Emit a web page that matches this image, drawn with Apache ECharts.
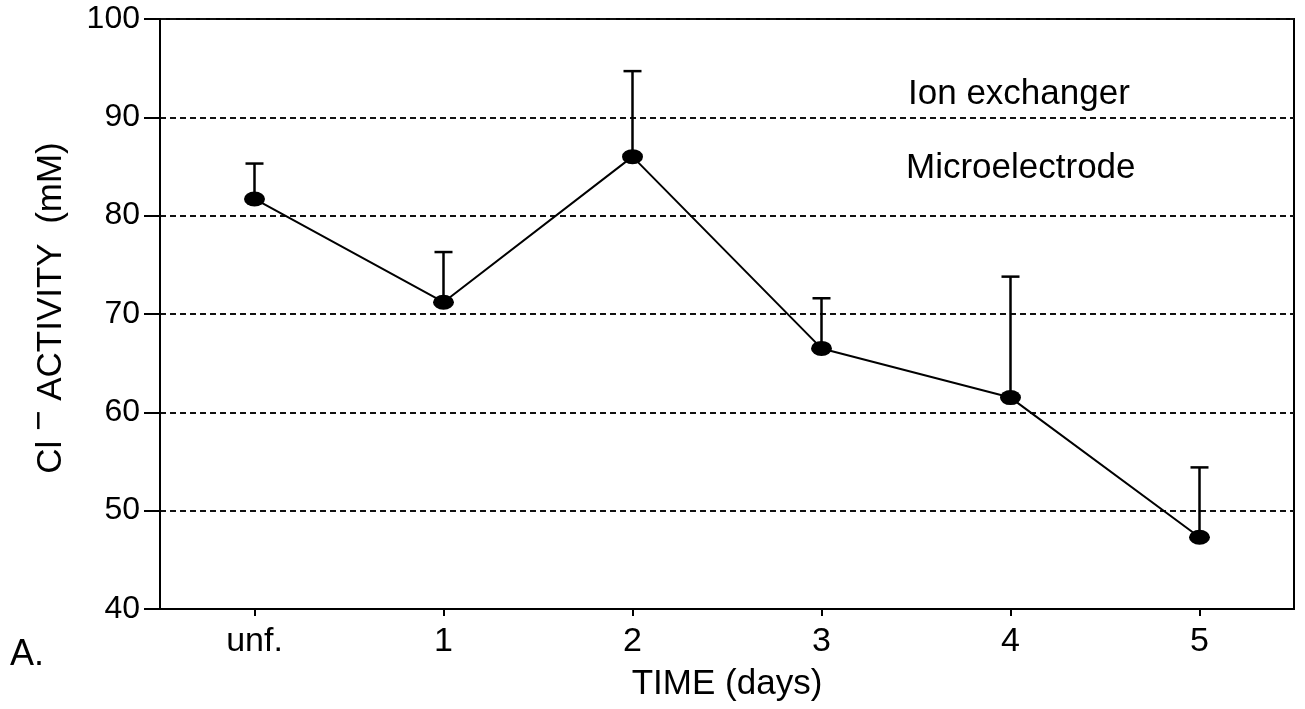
<!DOCTYPE html>
<html><head><meta charset="utf-8">
<script src="https://cdn.jsdelivr.net/npm/echarts@6/dist/echarts.min.js"></script>
<style>html,body{margin:0;padding:0;background:#fff}#c{width:1305px;height:709px}</style>
</head><body><div id="c"></div>
<script>
const categories = ['unf.', '1', '2', '3', '4', '5'];
const meanValues = [81.7, 71.2, 86.0, 66.5, 61.5, 47.3];
const upperValues = [85.3, 76.3, 94.7, 71.6, 73.8, 54.4];
const yMin = 40, yMax = 100, yStep = 10;
const annotations = ['Ion exchanger', 'Microelectrode'];
const panelLabel = 'A.';

const FONT = 'Liberation Sans, Arial, Helvetica, sans-serif';
const chart = echarts.init(document.getElementById('c'), null, {renderer: 'canvas'});

const errData = categories.map((c, i) => [i, meanValues[i], upperValues[i]]);

chart.setOption({
  animation: false,
  backgroundColor: '#fff',
  grid: {left: 160, right: 11, top: 19, bottom: 100, containLabel: false, outerBoundsMode: 'none',
    show: true, borderColor: '#000', borderWidth: 2, backgroundColor: 'transparent'},
  xAxis: {
    type: 'category',
    data: categories,
    boundaryGap: true,
    name: 'TIME (days)',
    nameLocation: 'middle',
    nameGap: 58,
    nameTextStyle: {fontSize: 35, fontFamily: FONT, color: '#000'},
    axisLine: {show: true, lineStyle: {color: '#000', width: 2}},
    axisTick: {show: true, alignWithLabel: true, length: 7, inside: false, lineStyle: {color: '#000', width: 2}},
    axisLabel: {fontSize: 34, fontFamily: FONT, color: '#000', margin: 16},
    splitLine: {show: false}
  },
  yAxis: {
    type: 'value',
    min: yMin, max: yMax, interval: yStep,
    name: 'Cl {s|−} ACTIVITY  (mM)',
    nameLocation: 'middle',
    nameGap: 80,
    nameTextStyle: {fontSize: 35, fontFamily: FONT, color: '#000', padding: [0, 0, 0, 12],
      rich: {s: {fontSize: 35, fontFamily: FONT, color: '#000', padding: [0, 0, 22, 0]}}},
    axisLine: {show: true, lineStyle: {color: '#000', width: 2}},
    axisTick: {show: true, length: 16, inside: false, lineStyle: {color: '#000', width: 2}},
    axisLabel: {fontSize: 32, fontFamily: FONT, color: '#000', margin: 20},
    splitLine: {show: true, lineStyle: {color: '#111', width: 2, type: [6, 4]}}
  },
  graphic: [
    {type: 'text', left: 908, top: 77, style: {text: annotations[0], font: '35px ' + FONT, fill: '#000'}},
    {type: 'text', left: 906, top: 151, style: {text: annotations[1], font: '35px ' + FONT, fill: '#000'}},
    {type: 'text', left: 10, top: 637, style: {text: panelLabel, font: '36px ' + FONT, fill: '#000'}}
  ],
  series: [
    {
      type: 'line',
      data: meanValues,
      symbol: 'circle',
      symbolSize: [21, 15],
      lineStyle: {color: '#000', width: 2},
      itemStyle: {color: '#000'},
      z: 3
    },
    {
      type: 'custom',
      data: errData,
      z: 4,
      renderItem: function (params, api) {
        const p0 = api.coord([api.value(0), api.value(1)]);
        const p1 = api.coord([api.value(0), api.value(2)]);
        const hw = 9;
        const st = {stroke: '#000', lineWidth: 2.5};
        return {type: 'group', children: [
          {type: 'line', shape: {x1: p0[0], y1: p0[1], x2: p1[0], y2: p1[1]}, style: st},
          {type: 'line', shape: {x1: p1[0] - hw, y1: p1[1], x2: p1[0] + hw, y2: p1[1]}, style: st}
        ]};
      }
    }
  ]
});
</script></body></html>
